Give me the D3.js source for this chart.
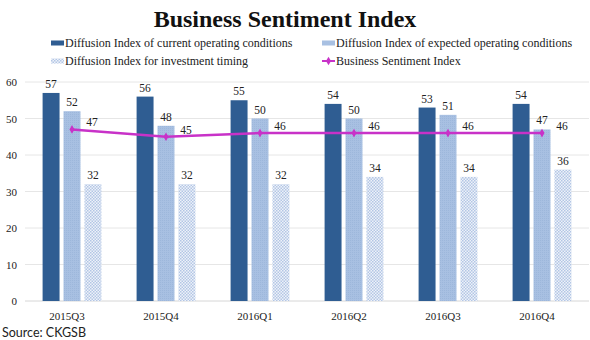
<!DOCTYPE html>
<html>
<head>
<meta charset="utf-8">
<script src="https://cdn.jsdelivr.net/npm/d3@7"></script>
<style>
  html, body { margin: 0; padding: 0; background: #fff; }
  svg { display: block; }
  text { font-family: "Liberation Serif", "Times New Roman", serif; fill: #222; }
</style>
</head>
<body>
<svg id="chart" width="590" height="340"></svg>
<script>
// Quarterly survey results
const quarters = ["2015Q3", "2015Q4", "2016Q1", "2016Q2", "2016Q3", "2016Q4"];
const currentConditions = [57, 56, 55, 54, 53, 54];
const expectedConditions = [52, 48, 50, 50, 51, 47];
const investmentTiming = [32, 32, 32, 34, 34, 36];
const sentimentIndex = [47, 45, 46, 46, 46, 46];
const yTicks = [0, 10, 20, 30, 40, 50, 60];

const seriesNames = [
  "Diffusion Index of current operating conditions",
  "Diffusion Index of expected operating conditions",
  "Diffusion Index for investment timing",
  "Business Sentiment Index"
];

const colDark = "#2f5d92";
const colLight = "#a8c0e2";
const colLine = "#c832c8";

const svg = d3.select("#chart");
const defs = svg.append("defs");

// fine dotted hatch used for the investment-timing bars
const pat = defs.append("pattern")
  .attr("id", "hatch")
  .attr("patternUnits", "userSpaceOnUse")
  .attr("width", 3).attr("height", 3);
pat.append("rect").attr("width", 3).attr("height", 3).attr("fill", "#eef2f9");
pat.append("rect").attr("x", 0).attr("y", 0).attr("width", 1.5).attr("height", 1.5).attr("fill", "#b3c6e5");
pat.append("rect").attr("x", 1.5).attr("y", 1.5).attr("width", 1.5).attr("height", 1.5).attr("fill", "#b3c6e5");

// subtle texture for the expected-conditions bars
const pat2 = defs.append("pattern")
  .attr("id", "tex")
  .attr("patternUnits", "userSpaceOnUse")
  .attr("width", 2).attr("height", 2);
pat2.append("rect").attr("width", 2).attr("height", 2).attr("fill", colLight);
pat2.append("rect").attr("width", 1).attr("height", 1).attr("fill", "#9db7db");

const plot = { left: 25, right: 589, top: 82, bottom: 301 };

const x = d3.scaleBand().domain(quarters).range([plot.left, plot.right]).padding(0);
const y = d3.scaleLinear().domain([0, 60]).range([plot.bottom, plot.top]);
const inner = d3.scaleBand().domain([0, 1, 2]).range([-31.5, 31.5]).paddingInner(0.19).paddingOuter(0.1);
const cx = q => x(q) + x.bandwidth() / 2;

// Title
svg.append("text")
  .attr("x", 285).attr("y", 27)
  .attr("text-anchor", "middle")
  .style("font-size", "24px").style("font-weight", "bold")
  .style("fill", "#111")
  .text("Business Sentiment Index");

// Gridlines
svg.append("g").selectAll("line").data(yTicks).join("line")
  .attr("x1", plot.left).attr("x2", plot.right)
  .attr("y1", d => y(d)).attr("y2", d => y(d))
  .attr("stroke", d => d === 0 ? "#d6d6d6" : "#e6e6e6")
  .attr("stroke-width", 1);

// Y axis labels
svg.append("g").selectAll("text").data(yTicks).join("text")
  .attr("x", 17).attr("y", d => y(d) + 4)
  .attr("text-anchor", "end")
  .style("font-size", "11px")
  .text(d => d);

// Bars
const barSeries = [
  { values: currentConditions, fill: colDark },
  { values: expectedConditions, fill: "url(#tex)" },
  { values: investmentTiming, fill: "url(#hatch)" }
];

barSeries.forEach((s, i) => {
  const g = svg.append("g");
  g.selectAll("rect").data(quarters).join("rect")
    .attr("x", (q) => cx(q) + inner(i))
    .attr("width", inner.bandwidth())
    .attr("y", (q, j) => y(s.values[j]))
    .attr("height", (q, j) => y(0) - y(s.values[j]))
    .attr("fill", s.fill);
  g.selectAll("text").data(quarters).join("text")
    .attr("x", q => cx(q) + inner(i) + inner.bandwidth() / 2)
    .attr("y", (q, j) => y(s.values[j]) - 5)
    .attr("text-anchor", "middle")
    .style("font-size", "11.5px")
    .text((q, j) => s.values[j]);
});

// Sentiment line
const line = d3.line().x((d, i) => cx(quarters[i])).y(d => y(d));
svg.append("path")
  .datum(sentimentIndex)
  .attr("d", line)
  .attr("fill", "none")
  .attr("stroke", colLine)
  .attr("stroke-width", 2.5);

const diamond = d3.symbol().type(d3.symbolDiamond).size(22);
svg.append("g").selectAll("path").data(sentimentIndex).join("path")
  .attr("transform", (d, i) => `translate(${cx(quarters[i])},${y(d)})`)
  .attr("d", diamond)
  .attr("fill", colLine);

svg.append("g").selectAll("text").data(sentimentIndex).join("text")
  .attr("x", (d, i) => cx(quarters[i]) + 20)
  .attr("y", d => y(d) - 3)
  .attr("text-anchor", "middle")
  .style("font-size", "11.5px")
  .text(d => d);

// X axis labels
svg.append("g").selectAll("text").data(quarters).join("text")
  .attr("x", q => cx(q) - 5)
  .attr("y", 320)
  .attr("text-anchor", "middle")
  .style("font-size", "11px")
  .text(q => q);

// Legend
const legend = svg.append("g");
const legendItems = [
  { name: seriesNames[0], x: 51, y: 43, kind: "rect", fill: colDark },
  { name: seriesNames[1], x: 322, y: 43, kind: "rect", fill: colLight },
  { name: seriesNames[2], x: 51, y: 61, kind: "rect", fill: "url(#hatch)" },
  { name: seriesNames[3], x: 322, y: 61, kind: "line", fill: colLine }
];
legendItems.forEach(it => {
  if (it.kind === "rect") {
    legend.append("rect")
      .attr("x", it.x).attr("y", it.y - 2.5)
      .attr("width", 13).attr("height", 5)
      .attr("fill", it.fill);
  } else {
    legend.append("line")
      .attr("x1", it.x).attr("x2", it.x + 13)
      .attr("y1", it.y).attr("y2", it.y)
      .attr("stroke", it.fill).attr("stroke-width", 2);
    legend.append("path")
      .attr("transform", `translate(${it.x + 6.5},${it.y})`)
      .attr("d", diamond)
      .attr("fill", it.fill);
  }
  legend.append("text")
    .attr("x", it.x + 14).attr("y", it.y + 4)
    .style("font-size", "12px")
    .text(it.name);
});

// Source note
svg.append("text")
  .attr("x", 2).attr("y", 337)
  .style("font-family", "Lato, 'Open Sans', sans-serif")
  .style("font-size", "12.5px")
  .style("fill", "#222")
  .text("Source: CKGSB");
</script>
</body>
</html>
